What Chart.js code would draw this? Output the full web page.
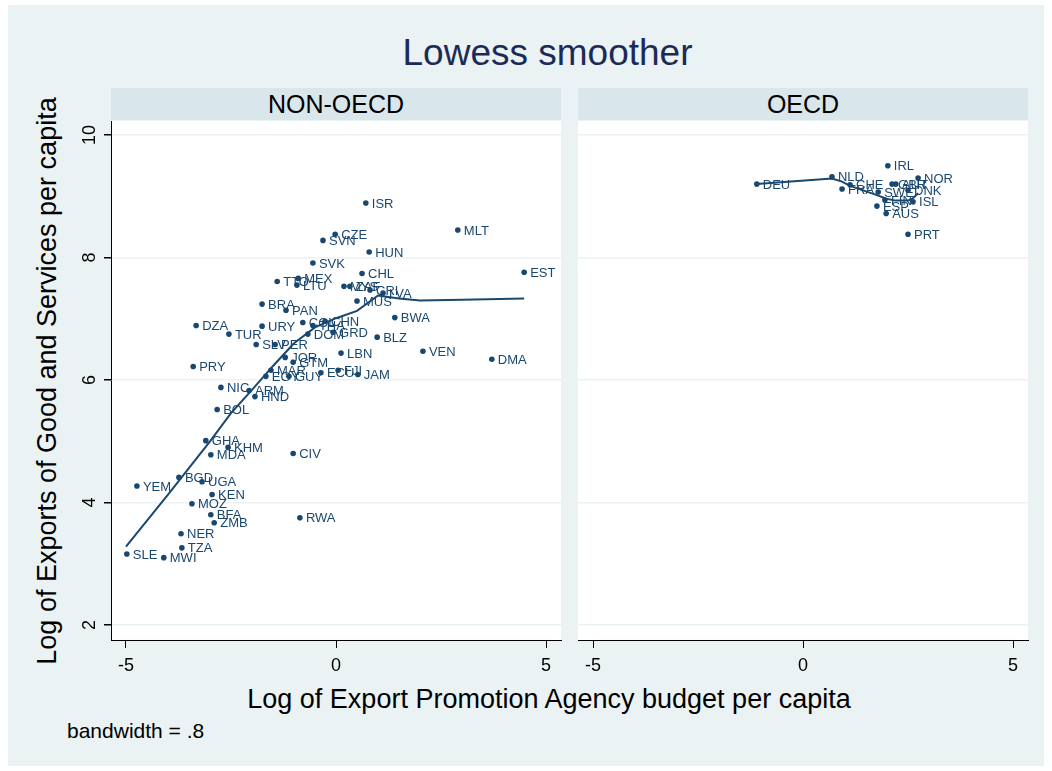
<!DOCTYPE html>
<html lang="en">
<head>
    <meta charset="UTF-8">
    <title>Lowess smoother</title>
    <style>
        body {
            margin: 0;
            background: #fff;
            font-family: "Liberation Sans", Arial, sans-serif;
            width: 1052px;
            height: 771px;
            position: relative;
            overflow: hidden;
        }
        #frame {
            position: absolute;
            left: 8px; top: 5px;
            width: 1036px; height: 761px;
            background: #eaf2f3;
        }
        .abs { position: absolute; }
        #title {
            left: 0; width: 1095px; top: 32px;
            text-align: center;
            font-size: 37px;
            color: #1c2a58;
        }
        .strip {
            top: 88px; height: 32px; width: 450px;
            background: #d9e6eb;
            text-align: center;
            line-height: 32px;
            font-size: 25px;
            color: #000;
        }
        #ytitle {
            left: 47px; top: 381px;
            transform: translate(-50%, -50%) rotate(-90deg);
            white-space: nowrap;
            font-size: 27px;
            color: #000;
        }
        #xtitle {
            left: 0; width: 1098px; top: 684px;
            text-align: center;
            font-size: 27px;
            color: #000;
        }
        #note {
            left: 67px; top: 719px;
            font-size: 21px;
            color: #000;
        }
        .wrap { position: absolute; top: 121px; height: 579px; }
        #leftWrap { left: 60px; width: 503px; }
        #rightWrap { left: 578px; width: 452px; }
    </style>
    <script src="https://cdn.jsdelivr.net/npm/chart.js"></script>
</head>
<body>
    <div id="frame"></div>
    <div id="title" class="abs">Lowess smoother</div>
    <div class="abs strip" style="left:111px">NON-OECD</div>
    <div class="abs strip" style="left:578px">OECD</div>
    <div id="ytitle" class="abs">Log of Exports of Good and Services per capita</div>
    <div id="xtitle" class="abs">Log of Export Promotion Agency budget per capita</div>
    <div id="note" class="abs">bandwidth = .8</div>
    <div id="leftWrap" class="wrap"><canvas id="leftChart" width="503" height="579"></canvas></div>
    <div id="rightWrap" class="wrap"><canvas id="rightChart" width="452" height="579"></canvas></div>

    <script>
        // ticks
        const xTicks = [-5, 0, 5];
        const yTicks = [2, 4, 6, 8, 10];

        // NON-OECD countries
        const nonOecdCodes = ['ISR', 'CZE', 'SVN', 'HUN', 'MLT', 'EST', 'SVK', 'CHL', 'TTO', 'MEX',
            'LTU', 'MYS', 'ZAF', 'CRI', 'LVA', 'MUS', 'BWA', 'BRA', 'PAN', 'URY',
            'DZA', 'TUR', 'SLV', 'PER', 'COL', 'THA', 'CHN', 'DOM', 'GRD', 'JOR',
            'GTM', 'LBN', 'BLZ', 'VEN', 'DMA', 'MAR', 'EGY', 'GUY', 'ECU', 'FJI',
            'JAM', 'PRY', 'NIC', 'ARM', 'HND', 'BOL', 'GHA', 'KHM', 'MDA', 'CIV',
            'BGD', 'UGA', 'YEM', 'KEN', 'MOZ', 'BFA', 'ZMB', 'RWA', 'NER', 'TZA',
            'SLE', 'MWI'];
        const nonOecdX = [0.71, -0.02, -0.31, 0.79, 2.90, 4.48, -0.55, 0.62, -1.40, -0.90,
            -0.93, 0.19, 0.33, 0.81, 1.12, 0.50, 1.40, -1.76, -1.19, -1.76,
            -3.33, -2.55, -1.90, -1.45, -0.79, -0.55, -0.26, -0.67, -0.07, -1.21,
            -1.02, 0.12, 0.98, 2.07, 3.71, -1.55, -1.67, -1.12, -0.36, 0.05,
            0.52, -3.40, -2.74, -2.07, -1.93, -2.83, -3.10, -2.57, -2.98, -1.02,
            -3.74, -3.19, -4.74, -2.95, -3.43, -2.98, -2.90, -0.86, -3.69, -3.67,
            -4.98, -4.10];
        const nonOecdY = [8.89, 8.38, 8.28, 8.09, 8.45, 7.76, 7.91, 7.74, 7.61, 7.66,
            7.55, 7.53, 7.53, 7.47, 7.42, 7.29, 7.02, 7.24, 7.14, 6.88,
            6.89, 6.75, 6.58, 6.58, 6.94, 6.89, 6.96, 6.75, 6.78, 6.37,
            6.29, 6.44, 6.70, 6.47, 6.34, 6.16, 6.06, 6.06, 6.12, 6.16,
            6.09, 6.22, 5.88, 5.83, 5.73, 5.52, 5.01, 4.90, 4.78, 4.80,
            4.41, 4.34, 4.27, 4.13, 3.98, 3.80, 3.67, 3.75, 3.49, 3.26,
            3.16, 3.10];

        // OECD countries
        const oecdCodes = ['DEU', 'NLD', 'FRA', 'CHE', 'SWE', 'ESP', 'FIN', 'AUS', 'IRL', 'GBR',
            'AUT', 'DNK', 'PRT', 'ISL', 'NOR'];
        const oecdX = [-1.10, 0.69, 0.93, 1.12, 1.79, 1.76, 1.95, 1.98, 2.02, 2.12,
            2.21, 2.50, 2.50, 2.62, 2.74];
        const oecdY = [9.20, 9.32, 9.12, 9.19, 9.07, 8.84, 8.94, 8.72, 9.50, 9.20,
            9.20, 9.10, 8.38, 8.91, 9.30];

        // lowess curves
        const lowessNonX = [-5.0, -4.0, -3.0, -2.5, -2.0, -1.5, -1.0, -0.5, 0.0, 0.5, 1.0, 1.5, 2.0, 3.0, 4.48];
        const lowessNonY = [3.28, 4.13, 5.00, 5.46, 5.84, 6.23, 6.60, 6.86, 7.01, 7.13, 7.38, 7.33, 7.30, 7.31, 7.33];
        const lowessOecdX = [-1.10, 0.69, 0.93, 1.12, 1.76, 1.98, 2.21, 2.50, 2.62, 2.74];
        const lowessOecdY = [9.20, 9.29, 9.24, 9.17, 9.02, 8.96, 8.93, 8.93, 8.97, 9.05];

        const NAVY = '#1a476f';
        const FONT = '"Liberation Sans", Arial, sans-serif';
        const X_MIN = -5.357, X_MAX = 5.357;
        const Y_MIN = 1.755, Y_MAX = 10.23;

        const toPoints = (xs, ys) => xs.map((x, i) => ({ x: x, y: ys[i] }));

        // white plot region
        const plotBg = {
            id: 'plotBg',
            beforeDraw(chart) {
                const a = chart.chartArea;
                chart.ctx.save();
                chart.ctx.fillStyle = '#fff';
                chart.ctx.fillRect(a.left, a.top, a.right - a.left, a.bottom - a.top);
                chart.ctx.restore();
            }
        };

        // country codes next to each marker
        const pointLabels = {
            id: 'pointLabels',
            afterDatasetsDraw(chart, args, opts) {
                const ctx = chart.ctx;
                const meta = chart.getDatasetMeta(0);
                ctx.save();
                ctx.font = '13px ' + FONT;
                ctx.fillStyle = NAVY;
                ctx.textAlign = 'left';
                ctx.textBaseline = 'middle';
                meta.data.forEach((pt, i) => {
                    ctx.fillText(opts.codes[i], pt.x + 6, pt.y + 1);
                });
                ctx.restore();
            }
        };

        // rotated y tick labels, Stata style
        const yTickLabels = {
            id: 'yTickLabels',
            afterDraw(chart) {
                const ctx = chart.ctx;
                const ys = chart.scales.y;
                ctx.save();
                ctx.font = '18px ' + FONT;
                ctx.fillStyle = '#000';
                ctx.textAlign = 'center';
                ctx.textBaseline = 'middle';
                yTicks.forEach(v => {
                    ctx.save();
                    ctx.translate(ys.right - 21, ys.getPixelForValue(v));
                    ctx.rotate(-Math.PI / 2);
                    ctx.fillText(String(v), 0, 0);
                    ctx.restore();
                });
                ctx.restore();
            }
        };

        function makeChart(id, codes, xs, ys, lx, ly, showYAxis) {
            const plugins = [plotBg, pointLabels];
            if (showYAxis) plugins.push(yTickLabels);
            return new Chart(document.getElementById(id), {
                type: 'scatter',
                data: {
                    datasets: [{
                        data: toPoints(xs, ys),
                        backgroundColor: NAVY,
                        borderColor: NAVY,
                        pointRadius: 2.8,
                        pointBorderWidth: 0
                    }, {
                        type: 'line',
                        data: toPoints(lx, ly),
                        borderColor: NAVY,
                        borderWidth: 2,
                        pointRadius: 0,
                        fill: false,
                        tension: 0
                    }]
                },
                options: {
                    responsive: false,
                    animation: false,
                    devicePixelRatio: 1,
                    layout: { autoPadding: false, padding: { top: 0, right: 2, bottom: 0, left: 0 } },
                    scales: {
                        x: {
                            type: 'linear',
                            min: X_MIN,
                            max: X_MAX,
                            afterBuildTicks: s => { s.ticks = xTicks.map(v => ({ value: v })); },
                            afterFit: s => { s.height = 60; },
                            grid: { drawOnChartArea: false, drawTicks: true, tickLength: 8, tickColor: '#000' },
                            border: { display: true, color: '#000', width: 1 },
                            ticks: { font: { size: 18, family: FONT }, color: '#000', padding: 7, maxRotation: 0 }
                        },
                        y: {
                            type: 'linear',
                            min: Y_MIN,
                            max: Y_MAX,
                            afterBuildTicks: s => { s.ticks = yTicks.map(v => ({ value: v })); },
                            afterFit: s => { s.width = showYAxis ? 51 : 0; },
                            grid: {
                                color: '#eaf2f3',
                                lineWidth: 1.5,
                                drawTicks: showYAxis,
                                tickLength: 7,
                                tickColor: '#000'
                            },
                            border: { display: showYAxis, color: '#000', width: 1 },
                            ticks: { display: false }
                        }
                    },
                    plugins: {
                        legend: { display: false },
                        tooltip: { enabled: false },
                        pointLabels: { codes: codes }
                    }
                },
                plugins: plugins
            });
        }

        makeChart('leftChart', nonOecdCodes, nonOecdX, nonOecdY, lowessNonX, lowessNonY, true);
        makeChart('rightChart', oecdCodes, oecdX, oecdY, lowessOecdX, lowessOecdY, false);
    </script>
</body>
</html>
